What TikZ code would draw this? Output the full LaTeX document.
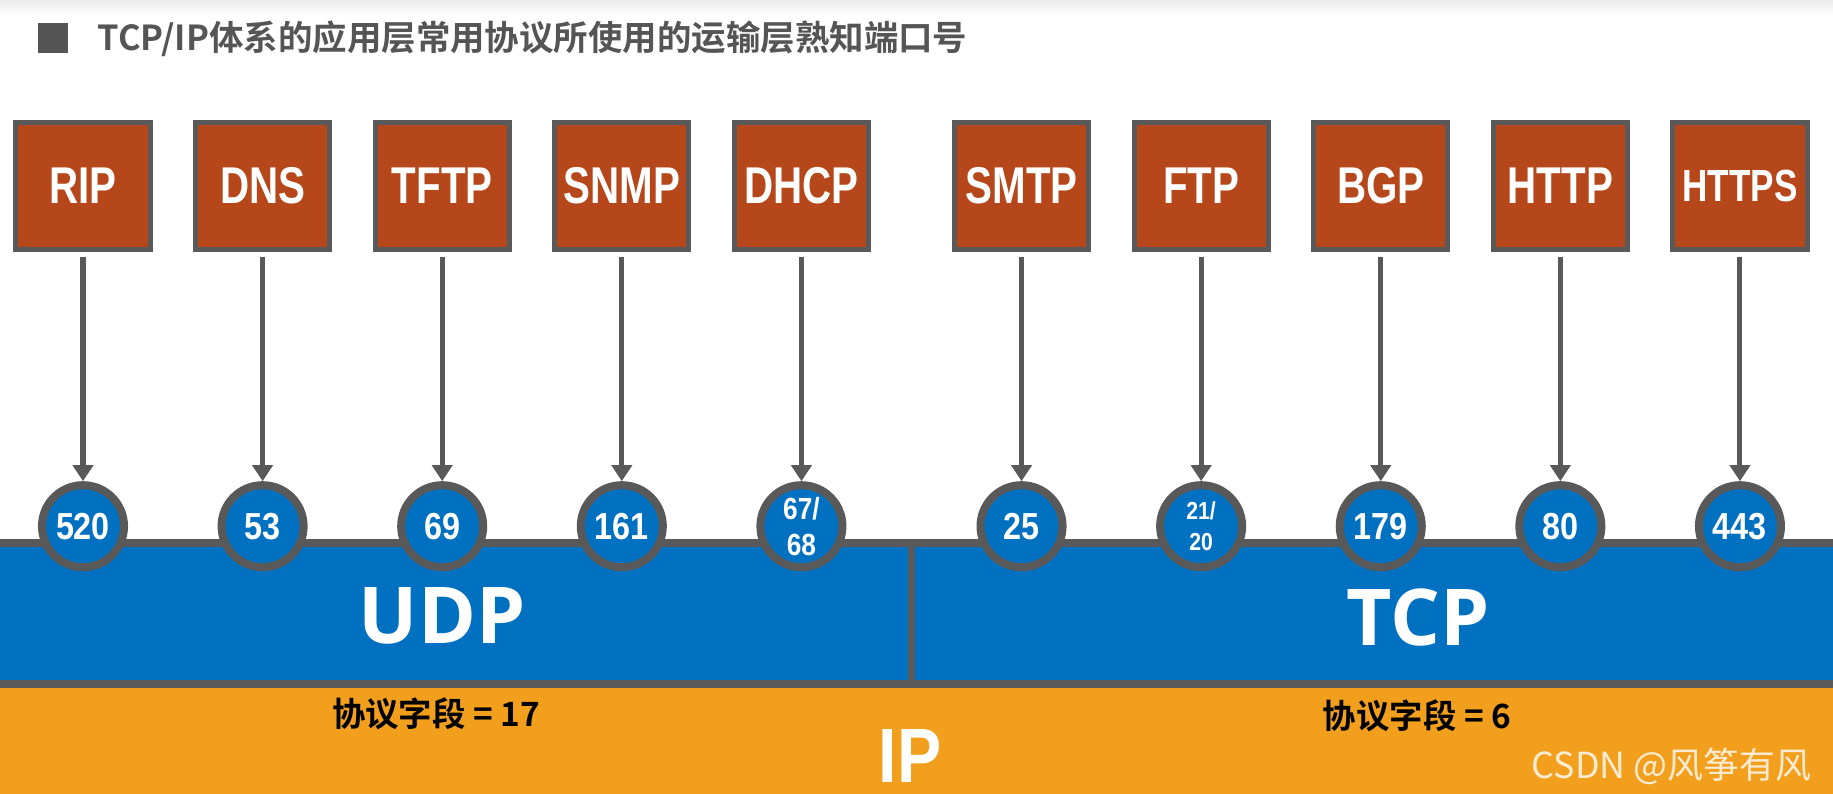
\documentclass[tikz,border=0pt]{standalone}
\usepackage{fontspec}
\usepackage{xcolor}
\usepackage{tikz}
\usetikzlibrary{arrows.meta, positioning}

\setmainfont{Liberation Sans}
\newfontfamily\narrowfont{Liberation Sans}[FakeStretch=0.78]
\newfontfamily\portfont{Liberation Sans}[FakeStretch=0.86]
\newfontfamily\ipfont{Liberation Sans}[FakeStretch=0.86]
\newfontfamily\roundfont{Open Sans}
\newfontfamily\cjkfont{Noto Sans CJK SC Bold}
\newfontfamily\markfont{Noto Sans CJK SC}

\definecolor{boxrust}{RGB}{181,71,26}
\definecolor{edgegrey}{RGB}{89,89,89}
\definecolor{udpblue}{RGB}{0,112,192}
\definecolor{iporange}{RGB}{241,159,28}
\definecolor{titlegrey}{RGB}{85,85,85}

\begin{document}
\begin{tikzpicture}[
    x=0.01cm, y=-0.01cm,
    protobox/.style={rectangle, draw=edgegrey, fill=boxrust, line width=0.05cm, minimum width=1.34cm, minimum height=1.27cm, inner sep=0pt, text=white, font=\narrowfont\bfseries\fontsize{14.7}{17}\selectfont},
    portdot/.style={circle, draw=edgegrey, fill=udpblue, line width=0.08cm, minimum size=0.82cm, inner sep=0pt, align=center, text=white, font=\portfont\bfseries\fontsize{10.7}{12}\selectfont},
    arr/.style={-{Triangle[width=0.2cm,length=0.16cm]}, line width=0.05cm, draw=edgegrey, shorten <=0.05cm}
]

\useasboundingbox (0,0) rectangle (1833,794);

% header
\shade[top color=black!8, bottom color=white] (0,0) rectangle (1833,16);
\node[fill=titlegrey, minimum size=0.3cm, inner sep=0pt] (bullet) at (53,38) {};
\node[anchor=west, inner sep=0pt, text=titlegrey, font=\cjkfont\fontsize{9.8}{12}\selectfont] (title) at (97,39) {TCP/IP体系的应用层常用协议所使用的运输层熟知端口号};

% transport and network layers
\fill[udpblue] (0,543) rectangle (1833,684);
\fill[iporange] (0,684) rectangle (1833,794);
\draw[edgegrey, line width=0.08cm] (0,543) -- (1833,543);
\draw[edgegrey, line width=0.08cm] (0,684) -- (1833,684);
\draw[edgegrey, line width=0.07cm] (911,543) -- (911,684);

\node[inner sep=0pt, text=white, font=\roundfont\bfseries\fontsize{22.3}{26}\selectfont] (udp) at (442,616) {UDP};
\node[inner sep=0pt, text=white, font=\roundfont\bfseries\fontsize{22.3}{26}\selectfont] (tcp) at (1418,617) {TCP};
\node[inner sep=0pt, text=white, font=\ipfont\bfseries\fontsize{21.9}{26}\selectfont] (ip) at (910,756) {IP};
\node[inner sep=0pt, font=\cjkfont\fontsize{9.5}{11}\selectfont] (udp_field) at (436,714) {协议字段 = 17};
\node[inner sep=0pt, font=\cjkfont\fontsize{9.5}{11}\selectfont] (tcp_field) at (1417,716) {协议字段 = 6};
\node[anchor=west, inner sep=0pt, text=white, opacity=0.8, font=\markfont\fontsize{10.2}{12}\selectfont] (mark) at (1531,766) {CSDN @风筝有风};

% application protocols
\node[protobox] (rip) at (83,186) {RIP};
\node[protobox, right=0.405cm of rip] (dns) {DNS};
\node[protobox, right=0.405cm of dns] (tftp) {TFTP};
\node[protobox, right=0.405cm of tftp] (snmp) {SNMP};
\node[protobox, right=0.405cm of snmp] (dhcp) {DHCP};
\node[protobox, right=0.81cm of dhcp] (smtp) {SMTP};
\node[protobox, right=0.405cm of smtp] (ftp) {FTP};
\node[protobox, right=0.405cm of ftp] (bgp) {BGP};
\node[protobox, right=0.405cm of bgp] (http) {HTTP};
\node[protobox, right=0.405cm of http, font=\narrowfont\bfseries\fontsize{12.8}{15}\selectfont] (https) {HTTPS};

% well-known ports
\node[portdot, below=2.29cm of rip] (p_rip) {520};
\node[portdot, below=2.29cm of dns] (p_dns) {53};
\node[portdot, below=2.29cm of tftp] (p_tftp) {69};
\node[portdot, below=2.29cm of snmp] (p_snmp) {161};
\node[portdot, below=2.29cm of dhcp, font=\portfont\bfseries\fontsize{8.7}{10.2}\selectfont] (p_dhcp) {67/\\68};
\node[portdot, below=2.29cm of smtp] (p_smtp) {25};
\node[portdot, below=2.29cm of ftp, font=\portfont\bfseries\fontsize{7}{9}\selectfont] (p_ftp) {21/\\20};
\node[portdot, below=2.29cm of bgp] (p_bgp) {179};
\node[portdot, below=2.29cm of http] (p_http) {80};
\node[portdot, below=2.29cm of https] (p_https) {443};

\draw[arr] (rip) -- (p_rip);
\draw[arr] (dns) -- (p_dns);
\draw[arr] (tftp) -- (p_tftp);
\draw[arr] (snmp) -- (p_snmp);
\draw[arr] (dhcp) -- (p_dhcp);
\draw[arr] (smtp) -- (p_smtp);
\draw[arr] (ftp) -- (p_ftp);
\draw[arr] (bgp) -- (p_bgp);
\draw[arr] (http) -- (p_http);
\draw[arr] (https) -- (p_https);

\end{tikzpicture}
\end{document}
